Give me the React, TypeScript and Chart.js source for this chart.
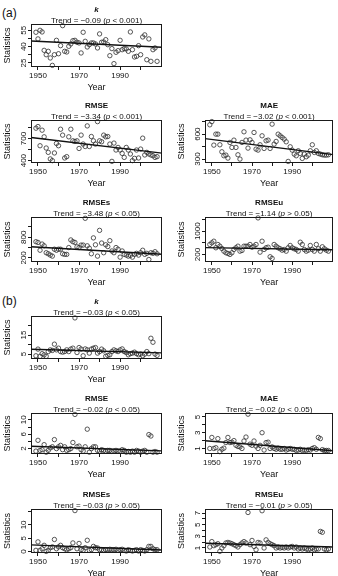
import { useEffect, useRef } from 'react';
import { Chart, registerables } from 'chart.js';

Chart.register(...registerables);

// ---- data -------------------------------------------------------------
const YEARS = [
  1949, 1950, 1951, 1952, 1953, 1954, 1955, 1956, 1957, 1958,
  1959, 1960, 1961, 1962, 1963, 1964, 1965, 1966, 1967, 1968,
  1969, 1970, 1971, 1972, 1973, 1974, 1975, 1976, 1977, 1978,
  1979, 1980, 1981, 1982, 1983, 1984, 1985, 1986, 1987, 1988,
  1989, 1990, 1991, 1992, 1993, 1994, 1995, 1996, 1997, 1998,
  1999, 2000, 2001, 2002, 2003, 2004, 2005, 2006, 2007, 2008,
];

const X_TICKS = [1950, 1960, 1970, 1980, 1990, 2000];
const X_LABELS = [1950, 1970, 1990];
const X_MIN = 1946.6;
const X_MAX = 2010.4;
const TREND_REF_YEAR = 1978.5;

// (a)
const A_K = [
  53.2, 47.1, 55, 53.5, 36.6, 32.6, 35.7, 29.6, 22.8, 32.6,
  45.8, 33.5, 40.9, 59.3, 35.7, 35.1, 40.3, 42.5, 45.5, 45.8,
  44, 43.4, 34.2, 53.2, 44.9, 39.7, 41.8, 43.4, 43.4, 42.5,
  38.8, 51.7, 44, 44.3, 46.4, 41.8, 31.7, 38.2, 24.4, 34.8,
  36.3, 45.8, 37.2, 38.2, 37.9, 35.7, 53.5, 37.2, 30.5, 31.1,
  40.9, 32.6, 48.9, 50.8, 28, 47.1, 26.5, 37.2, 38.8, 26.5,
];
const A_RMSE = [
  840, 862, 602, 813, 723, 571, 512, 423, 400, 504,
  633, 602, 826, 746, 436, 454, 723, 826, 669, 660,
  669, 565, 746, 625, 592, 871, 592, 727, 669, 625,
  929, 669, 656, 746, 723, 727, 625, 390, 638, 544,
  579, 544, 498, 444, 579, 544, 490, 400, 431, 544,
  436, 557, 705, 477, 512, 490, 477, 467, 444, 454,
];
const A_MAE = [
  712, 751, 468, 600, 600, 472, 388, 340, 348, 312,
  500, 440, 528, 440, 352, 300, 500, 628, 528, 432,
  532, 500, 620, 420, 408, 472, 580, 428, 520, 528,
  428, 720, 480, 512, 600, 580, 560, 540, 508, 272,
  448, 408, 360, 340, 400, 368, 308, 360, 328, 348,
  400, 472, 380, 400, 368, 360, 352, 348, 348, 352,
];
const A_RMSES = [
  671, 650, 422, 602, 551, 350, 320, 281, 251, 452,
  422, 452, 452, 320, 302, 302, 500, 722, 671, 650,
  521, 500, 572, 572, 1352, 551, 482, 320, 782, 581,
  251, 1001, 632, 350, 581, 530, 701, 401, 350, 500,
  452, 221, 401, 302, 281, 251, 272, 221, 302, 332,
  281, 350, 422, 302, 332, 152, 350, 332, 380, 320,
];
const A_RMSEU = [
  543, 601, 656, 430, 543, 485, 406, 313, 258, 234,
  200, 258, 372, 430, 485, 313, 337, 485, 485, 485,
  543, 450, 485, 543, 1459, 279, 656, 372, 430, 450,
  121, 63, 543, 485, 430, 396, 347, 372, 313, 430,
  509, 430, 396, 372, 313, 622, 543, 372, 313, 347,
  509, 372, 313, 543, 396, 313, 464, 396, 347, 313,
];

// (b)
const B_K = [
  4.1, 7.6, 3.8, 5.2, 4.6, 3.8, 6.3, 7.2, 6.9, 10.2,
  7.2, 8.1, 6.3, 6.0, 6.3, 7.2, 6.3, 7.6, 8.1, 24,
  5.8, 8.4, 7.6, 4.1, 7.7, 7.2, 5.5, 7.6, 8.1, 8.4,
  5.5, 6.3, 7.6, 6.7, 3.8, 4.3, 4.6, 6.3, 7.2, 6.7,
  6.3, 7.2, 7.7, 6.3, 5.8, 4.6, 5.2, 5.5, 6.0, 5.2,
  4.6, 5.0, 4.1, 5.0, 6.3, 5.2, 13.3, 11.2, 5.0, 4.3,
];
const B_RMSE = [
  1.3, 4.3, 1.5, 1.7, 3.1, 1.0, 1.5, 2.2, 2.5, 4.5,
  2.0, 2.5, 2.9, 1.7, 2.5, 1.5, 1.7, 2.0, 3.7, 11.5,
  2.5, 2.7, 1.7, 1.3, 2.5, 7.4, 1.0, 2.0, 2.5, 2.5,
  1.5, 1.3, 1.7, 1.5, 1.3, 1.5, 1.5, 1.2, 1.3, 1.5,
  1.3, 1.3, 1.7, 1.5, 1.0, 1.2, 1.0, 1.3, 1.0, 1.5,
  1.3, 1.0, 1.3, 1.5, 1.0, 5.9, 5.5, 1.0, 1.2, 1.0,
];
const B_MAE = [
  1.0, 2.4, 1.0, 1.1, 2.25, 0.6, 0.9, 1.04, 1.75, 2.4,
  1.75, 1.8, 2.0, 1.4, 1.25, 1.2, 1.0, 1.95, 2.45, 5.35,
  1.55, 1.4, 1.95, 1.3, 1.0, 1.4, 3.0, 0.8, 1.75, 1.8,
  1.0, 1.2, 1.0, 0.9, 1.04, 0.9, 0.9, 1.0, 0.8, 0.9,
  1.0, 0.9, 0.9, 0.75, 0.8, 0.9, 0.75, 0.8, 0.75, 0.85,
  0.8, 1.0, 1.1, 0.9, 2.4, 2.25, 0.85, 0.75, 0.75, 0.75,
];
const B_RMSES = [
  0.4, 3.6, 0.4, 1.0, 2.3, 0, 0.4, 1.4, 1.7, 4.5,
  1.0, 1.7, 2.3, 1.4, 1.0, 0.65, 1.0, 1.4, 3.2, 15.4,
  1.0, 3.0, 0.65, 0.4, 1.4, 4.2, 0.4, 0.65, 1.9, 1.4,
  1.3, 0.65, 0.65, 0.4, 0.65, 0.65, 0.8, 0.65, 0.65, 0.8,
  0.4, 0.65, 0.8, 0.4, 0.15, 0.65, 0.4, 0.15, 0.4, 0.65,
  0.15, 0.65, 0.4, 0.15, 0.65, 1.9, 1.9, 1.0, 0.65, 0.65,
];
const B_RMSEU = [
  1.17, 2.1, 1.4, 1.57, 1.74, 0.42, 1.0, 1.4, 1.86, 1.96,
  1.86, 1.74, 1.57, 1.4, 1.17, 1.57, 1.86, 2.1, 1.86, 7.1,
  1.57, 2.3, 1.27, 0.7, 1.96, 1.86, 7.4, 1.0, 2.4, 1.96,
  1.74, 1.57, 1.4, 1.0, 1.17, 1.0, 1.1, 1.0, 1.17, 1.0,
  1.17, 1.27, 1.0, 1.17, 0.83, 1.0, 0.83, 1.0, 0.83, 0.7,
  0.83, 1.0, 0.7, 0.83, 0.83, 3.85, 3.7, 0.83, 0.7, 0.83,
];

const SERIES = [A_K, A_RMSE, A_MAE, A_RMSES, A_RMSEU, B_K, B_RMSE, B_MAE, B_RMSES, B_RMSEU];
const TITLES = ['k', 'RMSE', 'MAE', 'RMSEs', 'RMSEu', 'k', 'RMSE', 'MAE', 'RMSEs', 'RMSEu'];
const TREND_SLOPES = [-0.09, -3.34, -3.02, -3.48, -1.14, -0.03, -0.02, -0.02, -0.03, -0.01];
const TREND_P = ['< 0.001', '< 0.001', '< 0.001', '< 0.05', '> 0.05', '< 0.05', '< 0.05', '< 0.05', '> 0.05', '> 0.05'];
// level of each fitted trend line at TREND_REF_YEAR
const TREND_LEVELS = [42.35, 608, 450, 415, 400, 6.6, 2.0, 1.35, 1.5, 1.5];
const Y_RANGES = [
  [21.3, 60.8], [368, 951], [253, 770], [80, 1390], [-60, 1490],
  [2.4, 25], [0.5, 11.9], [0.3, 5.5], [-0.6, 16], [0.14, 7.7],
];
const Y_TICKS = [
  [25, 32.5, 40, 47.5, 55], [400, 550, 700, 850], [300, 450, 600, 750], [200, 500, 800, 1100], [200, 600, 1000, 1400],
  [5, 10, 15, 20], [2, 4, 6, 8, 10], [1, 2, 3, 4, 5], [0, 5, 10, 15], [1, 2, 3, 4, 5, 6, 7],
];
const Y_LABELS = [
  [25, 40, 55], [400, 700], [300, 600], [200, 800], [200, 1000],
  [5, 15], [2, 6, 10], [1, 3, 5], [0, 5, 10], [1, 3, 5, 7],
];

// ---- layout -----------------------------------------------------------
const FONT = '"Liberation Sans", Arial, Helvetica, sans-serif';
const INK = '#111';
const HEAD = 24; // room above each plot box for the two header lines
const FOOT = 26; // room below each plot box for tick labels and axis title

const COLS = [
  { canvasLeft: 0, width: 170, boxLeft: 31, boxRight: 162, yTitleX: 8 },
  { canvasLeft: 170, width: 168, boxLeft: 205, boxRight: 335, yTitleX: 182 },
];
const ROWS = [
  { boxTop: 24, boxBottom: 67 },
  { boxTop: 120, boxBottom: 163 },
  { boxTop: 217, boxBottom: 262 },
  { boxTop: 316, boxBottom: 359 },
  { boxTop: 413, boxBottom: 454 },
  { boxTop: 509, boxBottom: 553 },
];
const SLOTS = [[0, 0], [1, 0], [1, 1], [2, 0], [2, 1], [3, 0], [4, 0], [4, 1], [5, 0], [5, 1]];

// Draws the R-style frame, rotated y labels and the two header lines.
const panelFrame = {
  id: 'panelFrame',
  afterDraw(chart: any, _args: any, opts: any) {
    const { ctx, chartArea } = chart;
    const { left, top, right, bottom } = chartArea;
    ctx.save();
    ctx.strokeStyle = '#1a1a1a';
    ctx.lineWidth = 1;
    ctx.strokeRect(Math.round(left) + 0.5, Math.round(top) + 0.5, Math.round(right - left) - 1, Math.round(bottom - top) - 1);

    // y tick labels, reading upwards
    const yScale = chart.scales.y;
    ctx.fillStyle = INK;
    ctx.font = `8px ${FONT}`;
    ctx.textAlign = 'center';
    ctx.textBaseline = 'middle';
    for (const v of opts.yLabels) {
      const py = yScale.getPixelForValue(v);
      ctx.save();
      ctx.translate(left - 7.5, py);
      ctx.rotate(-Math.PI / 2);
      ctx.fillText(String(v), 0, 0);
      ctx.restore();
    }

    const cx = (left + right) / 2;
    // panel title
    ctx.font = opts.title === 'k' ? `italic bold 8px ${FONT}` : `bold 8px ${FONT}`;
    ctx.textAlign = 'center';
    ctx.textBaseline = 'middle';
    ctx.fillText(opts.title, cx, top - 14);

    // trend line caption with italic p
    const slope = opts.slope as number;
    const sign = slope < 0 ? '\u2212' : '';
    const partA = `Trend = ${sign}${Math.abs(slope).toFixed(2)} (`;
    const partB = 'p';
    const partC = ` ${opts.p})`;
    const regular = `8px ${FONT}`;
    const italic = `italic 8px ${FONT}`;
    ctx.font = regular;
    const wA = ctx.measureText(partA).width;
    const wC = ctx.measureText(partC).width;
    ctx.font = italic;
    const wB = ctx.measureText(partB).width;
    let x = cx - (wA + wB + wC) / 2;
    const by = top - 1.5;
    ctx.textAlign = 'left';
    ctx.textBaseline = 'alphabetic';
    ctx.font = regular;
    ctx.fillText(partA, x, by);
    x += wA;
    ctx.font = italic;
    ctx.fillText(partB, x, by);
    x += wB;
    ctx.font = regular;
    ctx.fillText(partC, x, by);
    ctx.restore();
  },
};

function Panel({ index }: { index: number }) {
  const ref = useRef<HTMLCanvasElement>(null);
  const [r, c] = SLOTS[index];
  const row = ROWS[r];
  const col = COLS[c];
  const top = row.boxTop - HEAD;
  const height = row.boxBottom - top + FOOT;

  useEffect(() => {
    const canvas = ref.current;
    if (!canvas) return;
    const values = SERIES[index];
    const points = values.map((v, i) => ({ x: YEARS[i], y: v }));
    const slope = TREND_SLOPES[index];
    const level = TREND_LEVELS[index];
    const trend = [X_MIN, X_MAX].map((x) => ({ x, y: level + slope * (x - TREND_REF_YEAR) }));
    const [yMin, yMax] = Y_RANGES[index];
    const yTicks = Y_TICKS[index];

    const chart = new Chart(canvas, {
      type: 'scatter',
      data: {
        datasets: [
          {
            data: points,
            pointRadius: 2.2,
            pointBorderWidth: 0.8,
            pointBorderColor: '#2e2e2e',
            pointBackgroundColor: 'rgba(0,0,0,0)',
            clip: 8,
            order: 1,
          } as any,
          {
            data: trend,
            showLine: true,
            borderColor: '#111',
            borderWidth: 1.4,
            pointRadius: 0,
            order: 0,
          } as any,
        ],
      },
      options: {
        animation: false,
        responsive: false,
        devicePixelRatio: 1,
        layout: {
          padding: { top: HEAD, right: col.canvasLeft + col.width - col.boxRight, bottom: 0, left: 0 },
        },
        plugins: {
          legend: { display: false },
          tooltip: { enabled: false },
          panelFrame: { title: TITLES[index], slope, p: TREND_P[index], yLabels: Y_LABELS[index] },
        } as any,
        scales: {
          x: {
            type: 'linear',
            min: X_MIN,
            max: X_MAX,
            afterFit: (s: any) => { s.height = FOOT; },
            afterBuildTicks: (s: any) => { s.ticks = X_TICKS.map((value) => ({ value })); },
            ticks: {
              autoSkip: false,
              maxRotation: 0,
              padding: 1,
              color: INK,
              font: { family: FONT, size: 8 },
              callback: (v: any) => (X_LABELS.includes(Number(v)) ? String(v) : ''),
            },
            grid: { display: true, drawOnChartArea: false, drawTicks: true, tickLength: 3, color: '#1a1a1a', lineWidth: 1 },
            border: { display: false },
            title: { display: true, text: 'Year', color: INK, font: { family: FONT, size: 9 }, padding: { top: 0, bottom: 0 } },
          },
          y: {
            type: 'linear',
            min: yMin,
            max: yMax,
            afterFit: (s: any) => { s.width = col.boxLeft - col.canvasLeft; },
            afterBuildTicks: (s: any) => { s.ticks = yTicks.map((value) => ({ value })); },
            ticks: { display: false },
            grid: { display: true, drawOnChartArea: false, drawTicks: true, tickLength: 3, color: '#1a1a1a', lineWidth: 1 },
            border: { display: false },
            title: {
              display: true,
              text: 'Statistics',
              color: INK,
              font: { family: FONT, size: 9 },
              padding: { top: col.yTitleX - col.canvasLeft - 5.4, bottom: 0 },
            },
          },
        },
      },
      plugins: [panelFrame],
    } as any);
    return () => chart.destroy();
  }, [index]);

  return (
    <canvas
      ref={ref}
      width={col.width}
      height={height}
      style={{ position: 'absolute', left: col.canvasLeft, top, width: col.width, height }}
    />
  );
}

export default function App() {
  return (
    <div
      style={{
        position: 'absolute',
        left: 0,
        top: 0,
        width: 338,
        height: 576,
        overflow: 'hidden',
        background: '#fff',
        fontFamily: FONT,
      }}
    >
      <div style={{ position: 'absolute', left: 2, top: 7, fontSize: 12, lineHeight: '12px', color: INK }}>(a)</div>
      <div style={{ position: 'absolute', left: 2, top: 295, fontSize: 12, lineHeight: '12px', color: INK }}>(b)</div>
      {SERIES.map((_, i) => (
        <Panel key={i} index={i} />
      ))}
    </div>
  );
}
